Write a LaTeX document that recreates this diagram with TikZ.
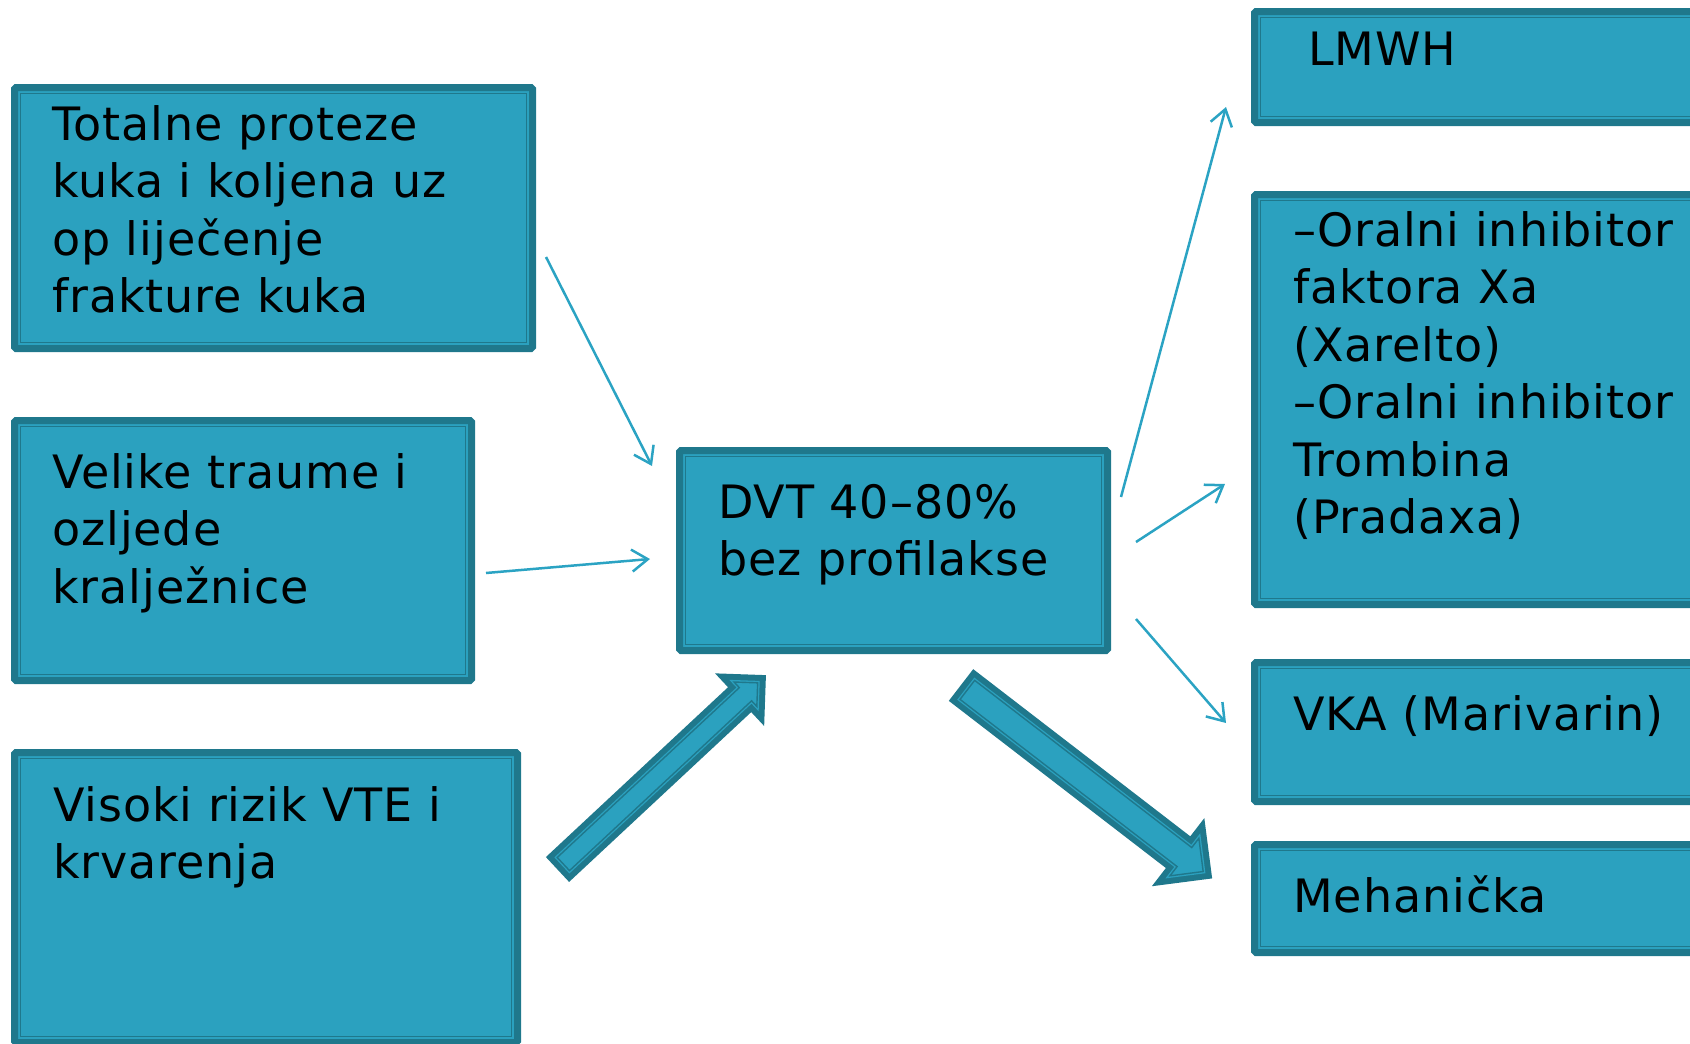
\documentclass[tikz,border=0pt]{standalone}
\usepackage{fontspec}
\setmainfont{DejaVu Sans}[LetterSpace=2]
\usetikzlibrary{arrows.meta}
\definecolor{fillc}{RGB}{43,161,191}
\definecolor{darkc}{RGB}{31,120,140}
\definecolor{arrc}{RGB}{43,163,195}
% polygon of a block arrow: #1 length, #2 shaft half width, #3 head half width (= head length), #4 inset, #5 options
\newcommand\bapoly[5]{\path[#5] (#4,{-(#2-#4)}) -- ({#1-#3+#4},{-(#2-#4)}) -- ({#1-#3+#4},{-(#3-#4*2.4142)}) -- ({#1-#4*1.4142},0) -- ({#1-#3+#4},{#3-#4*2.4142}) -- ({#1-#3+#4},{#2-#4}) -- (#4,{#2-#4}) -- cycle;}
\newcommand\blockarrow[6]{\begin{scope}[shift={(#1,#2)},rotate=#3]
\bapoly{#4}{#5}{#6}{0}{fill=darkc}
\bapoly{#4}{#5}{#6}{6}{fill=fillc}
\bapoly{#4}{#5}{#6}{8}{draw=darkc,line width=1.4pt}
\end{scope}}
\begin{document}
\begin{tikzpicture}[x=1pt,y=-1pt,
  box/.style={draw=darkc, line width=7pt, fill=fillc, rounded corners=1.5pt, inner sep=0pt,
    path picture={\draw[darkc, line width=1.3pt, sharp corners]
      ([shift={(6pt,-6pt)}]path picture bounding box.north west) rectangle
      ([shift={(-6pt,6pt)}]path picture bounding box.south east);}},
  txt/.style={anchor=base west, inner sep=0pt, font=\fontsize{46}{57.5}\selectfont},
  thin/.style={draw=arrc, line width=2.5pt, -{Straight Barb[length=16pt,width=22pt]}}]
\useasboundingbox (0,0) rectangle (1690,1044);
\clip (0,0) rectangle (1690,1044);
% boxes
\node[box, minimum width=518pt, minimum height=261pt] (b1) at (273.5,218) {};
\node[box, minimum width=457pt, minimum height=260pt] (b2) at (243,550.5) {};
\node[box, minimum width=503pt, minimum height=290pt] (b3) at (266,897.5) {};
\node[box, minimum width=428pt, minimum height=200pt] (bd) at (893.5,550.5) {};
\node[box, minimum width=482pt, minimum height=111pt] (bl) at (1495.5,67) {};
\node[box, minimum width=482pt, minimum height=410pt] (bo) at (1495.5,399.5) {};
\node[box, minimum width=482pt, minimum height=139pt] (bv) at (1495.5,732) {};
\node[box, minimum width=482pt, minimum height=108pt] (bm) at (1495.5,898.5) {};
% texts
\node[txt] (t1) at (52,140) {\begin{tabular}[t]{@{}l@{}}Totalne proteze\\ kuka i koljena uz\\ op liječenje\\ frakture kuka\end{tabular}};
\node[txt] (t2) at (52,488) {\begin{tabular}[t]{@{}l@{}}Velike traume i\\ ozljede\\ kralježnice\end{tabular}};
\node[txt] (t3) at (53,821) {\begin{tabular}[t]{@{}l@{}}Visoki rizik VTE i\\ krvarenja\end{tabular}};
\node[txt] (td) at (718,518) {\begin{tabular}[t]{@{}l@{}}DVT 40–80\%\\ bez profilakse\end{tabular}};
\node[txt] (tl) at (1308,65) {LMWH};
\node[txt] (to) at (1293,246) {\begin{tabular}[t]{@{}l@{}}–Oralni inhibitor\\ faktora Xa\\ (Xarelto)\\ –Oralni inhibitor\\ Trombina\\ (Pradaxa)\end{tabular}};
\node[txt] (tv) at (1293,730) {VKA (Marivarin)};
\node[txt] (tm) at (1293,912) {Mehanička};
% thin connectors
\coordinate (a1s) at (546,257); \coordinate (a1e) at (652,466);
\coordinate (a2s) at (486,573); \coordinate (a2e) at (650,559);
\coordinate (a3s) at (1121,497); \coordinate (a3e) at (1226,107);
\coordinate (a4s) at (1136,542); \coordinate (a4e) at (1225,484);
\coordinate (a5s) at (1136,619); \coordinate (a5e) at (1226,723);
\draw[thin] (a1s) -- (a1e);
\draw[thin] (a2s) -- (a2e);
\draw[thin] (a3s) -- (a3e);
\draw[thin] (a4s) -- (a4e);
\draw[thin] (a5s) -- (a5e);
% block arrows
\blockarrow{557.5}{869.5}{43}{285}{17}{36}
\blockarrow{961}{685}{-37.6}{317}{20}{43}
\end{tikzpicture}
\end{document}
